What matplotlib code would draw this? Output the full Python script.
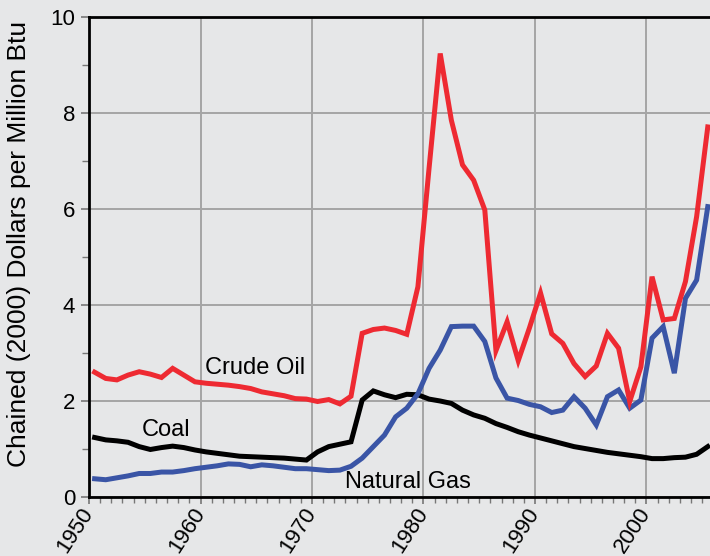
import numpy as np
import matplotlib
matplotlib.use("Agg")
import matplotlib.pyplot as plt
from matplotlib.ticker import MultipleLocator

# anos da série
anos = np.arange(1950, 2006)

# preços (dólares encadeados de 2000 por milhão de Btu)
petroleo = [2.60, 2.47, 2.44, 2.54, 2.61, 2.56, 2.49, 2.68, 2.54, 2.40,
            2.37, 2.35, 2.33, 2.30, 2.26, 2.19, 2.15, 2.11, 2.05, 2.04,
            1.99, 2.03, 1.94, 2.10, 3.41, 3.49, 3.52, 3.47, 3.39, 4.38,
            6.85, 9.24, 7.85, 6.92, 6.60, 5.98, 3.05, 3.65, 2.84, 3.52,
            4.25, 3.40, 3.20, 2.78, 2.51, 2.73, 3.41, 3.10, 1.99, 2.71,
            4.59, 3.69, 3.72, 4.49, 5.84, 7.71]

carvao = [1.24, 1.19, 1.17, 1.14, 1.05, 0.99, 1.03, 1.06, 1.03, 0.98,
          0.94, 0.91, 0.88, 0.85, 0.84, 0.83, 0.82, 0.81, 0.79, 0.77,
          0.94, 1.05, 1.10, 1.15, 2.02, 2.21, 2.13, 2.07, 2.14, 2.13,
          2.04, 2.00, 1.95, 1.81, 1.71, 1.64, 1.53, 1.45, 1.36, 1.29,
          1.23, 1.17, 1.11, 1.05, 1.01, 0.97, 0.93, 0.90, 0.87, 0.84,
          0.80, 0.80, 0.82, 0.83, 0.89, 1.05]

gas = [0.38, 0.36, 0.40, 0.44, 0.49, 0.49, 0.52, 0.52, 0.55, 0.59,
       0.62, 0.65, 0.69, 0.68, 0.63, 0.67, 0.65, 0.62, 0.59, 0.59,
       0.57, 0.55, 0.56, 0.64, 0.81, 1.05, 1.29, 1.67, 1.85, 2.15,
       2.68, 3.06, 3.55, 3.56, 3.56, 3.24, 2.48, 2.06, 2.01, 1.93,
       1.88, 1.76, 1.81, 2.09, 1.85, 1.50, 2.09, 2.23, 1.85, 2.02,
       3.31, 3.55, 2.58, 4.14, 4.52, 6.05]

rotulos_x = ["1950", "1960", "1970", "1980", "1990", "2000"]

fundo = "#e6e7e8"
plt.rcParams["font.family"] = ["Liberation Sans", "DejaVu Sans"]

fig = plt.figure(figsize=(7.10, 5.56), dpi=100, facecolor=fundo)
ax = fig.add_axes([0.1254, 0.1061, 0.8746, 0.8633], facecolor=fundo)

# pontos no meio de cada ano (eixo de categorias)
x = anos + 0.5
ax.plot(x, carvao, color="black", lw=3.6, solid_joinstyle="miter", zorder=3)
ax.plot(x, gas, color="#3a55a6", lw=3.6, solid_joinstyle="miter", zorder=4)
ax.plot(x, petroleo, color="#ee2a32", lw=3.6, solid_joinstyle="miter", zorder=5)

ax.set_xlim(1950, 2005.7)
ax.set_ylim(0, 10)

# ticks e grade
ax.set_xticks([int(r) for r in rotulos_x])
ax.set_xticklabels(rotulos_x, rotation=57, ha="right", va="center",
                   rotation_mode="anchor", fontsize=16)
ax.xaxis.set_minor_locator(MultipleLocator(1))
ax.yaxis.set_major_locator(MultipleLocator(2))
ax.yaxis.set_minor_locator(MultipleLocator(1))
ax.tick_params(axis="both", which="both", direction="out", color="#777777")
ax.tick_params(axis="x", which="major", length=5, width=1.2, pad=4)
ax.tick_params(axis="x", which="minor", length=4, width=1.0)
ax.tick_params(axis="y", which="major", length=6, width=1.2, labelsize=16, pad=4)
ax.tick_params(axis="y", which="minor", length=5, width=1.0)
ax.grid(True, which="major", color="#a5a5a5", lw=1.4, zorder=1)
ax.set_axisbelow(True)

for lado in ["left", "bottom", "top"]:
    ax.spines[lado].set_linewidth(2)
    ax.spines[lado].set_color("black")
ax.spines["right"].set_visible(False)

ax.set_ylabel("Chained (2000) Dollars per Million Btu", fontsize=19)
ax.yaxis.set_label_coords(-0.093, 0.528)

# rótulos das linhas
ax.text(1964.9, 2.69, "Crude Oil", fontsize=17, ha="center", va="center")
ax.text(1956.9, 1.40, "Coal", fontsize=17, ha="center", va="center")
ax.text(1978.6, 0.31, "Natural Gas", fontsize=17, ha="center", va="center")

plt.savefig("out.png", dpi=100, facecolor=fundo)
